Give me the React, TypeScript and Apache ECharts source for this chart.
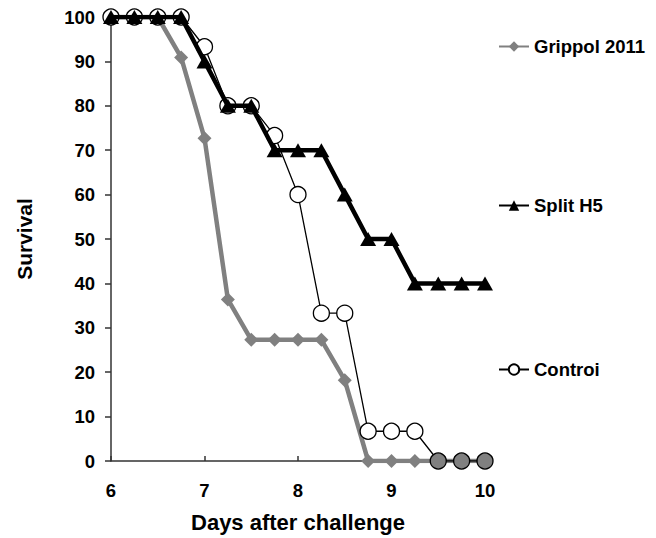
import React, { useEffect, useRef } from "react";
import * as echarts from "echarts";

const days = [6, 6.25, 6.5, 6.75, 7, 7.25, 7.5, 7.75, 8, 8.25, 8.5, 8.75, 9, 9.25, 9.5, 9.75, 10];
const grippol = [100, 100, 100, 90.9, 72.7, 36.4, 27.3, 27.3, 27.3, 27.3, 18.2, 0, 0, 0, 0, 0, 0];
const splitH5 = [100, 100, 100, 100, 90, 80, 80, 70, 70, 70, 60, 50, 50, 40, 40, 40, 40];
const control = [100, 100, 100, 100, 93.3, 80, 80, 73.3, 60, 33.3, 33.3, 6.7, 6.7, 6.7, 0, 0, 0];
const seriesNames = ["Grippol 2011", "Split H5", "Controi"];
const xTicks = [6, 7, 8, 9, 10];

const FONT = "'Liberation Sans', Arial, sans-serif";

export default function App() {
  const ref = useRef<HTMLDivElement>(null);
  useEffect(() => {
    document.body.style.margin = "0";
    const chart = echarts.init(ref.current!, undefined, { renderer: "svg" });
    const gData = days.map((d, i) => (d > 9.25 ? { value: [d, grippol[i]], symbol: "none" } : { value: [d, grippol[i]] }));
    const cData = days.map((d, i) =>
      d > 9.25 ? { value: [d, control[i]], itemStyle: { color: "#808080" } } : { value: [d, control[i]] }
    );
    const sData = days.map((d, i) => [d, splitH5[i]]);
    const legendBase = {
      orient: "vertical" as const,
      left: 493,
      itemWidth: 30,
      itemHeight: 13,
      itemGap: 4,
      textStyle: { fontFamily: FONT, fontWeight: "bold", fontSize: 18.5, color: "#000" },
      selectedMode: false,
    };
    chart.setOption({
      animation: false,
      backgroundColor: "#fff",
      grid: { left: 111, right: 171, top: 17, bottom: 77 },
      legend: [
        { ...legendBase, top: 32, data: [seriesNames[0]] },
        { ...legendBase, top: 191, data: [seriesNames[1]] },
        { ...legendBase, top: 355, data: [seriesNames[2]] },
      ],
      xAxis: {
        type: "value",
        min: 6,
        max: 10,
        interval: 1,
        name: "Days after challenge",
        nameLocation: "middle",
        nameGap: 50,
        nameTextStyle: { fontFamily: FONT, fontWeight: "bold", fontSize: 22, color: "#000" },
        axisLine: { lineStyle: { color: "#333", width: 1.5 } },
        axisTick: { inside: true, length: 5, lineStyle: { color: "#333", width: 1.5 } },
        axisLabel: {
          fontFamily: FONT,
          fontWeight: "bold",
          fontSize: 18.5,
          color: "#000",
          margin: 20,
          customValues: xTicks,
        },
        splitLine: { show: false },
      },
      yAxis: {
        type: "value",
        min: 0,
        max: 100,
        interval: 10,
        name: "Survival",
        nameLocation: "middle",
        nameGap: 76,
        nameRotate: 90,
        nameTextStyle: { fontFamily: FONT, fontWeight: "bold", fontSize: 21, color: "#000" },
        axisLine: { show: true, lineStyle: { color: "#333", width: 1.5 } },
        axisTick: { show: true, inside: false, length: 6, lineStyle: { color: "#333", width: 1.5 } },
        axisLabel: { fontFamily: FONT, fontWeight: "bold", fontSize: 18.5, color: "#000", margin: 16 },
        splitLine: { show: false },
      },
      series: [
        {
          name: seriesNames[0],
          type: "line",
          data: gData,
          symbol: "diamond",
          symbolSize: 14,
          lineStyle: { color: "#808080", width: 4.5 },
          itemStyle: { color: "#808080", borderWidth: 0 },
          z: 2,
        },
        {
          name: seriesNames[2],
          type: "line",
          data: cData,
          symbol: "circle",
          symbolSize: 16,
          lineStyle: { color: "#000", width: 1.3 },
          itemStyle: { color: "#fff", borderColor: "#000", borderWidth: 1.3 },
          z: 3,
        },
        {
          name: seriesNames[1],
          type: "line",
          data: sData,
          symbol: "triangle",
          symbolSize: [16, 14],
          lineStyle: { color: "#000", width: 4.5 },
          itemStyle: { color: "#000", borderWidth: 0 },
          z: 4,
        },
      ],
    });
    return () => chart.dispose();
  }, []);
  return <div ref={ref} style={{ width: 656, height: 538 }} />;
}
